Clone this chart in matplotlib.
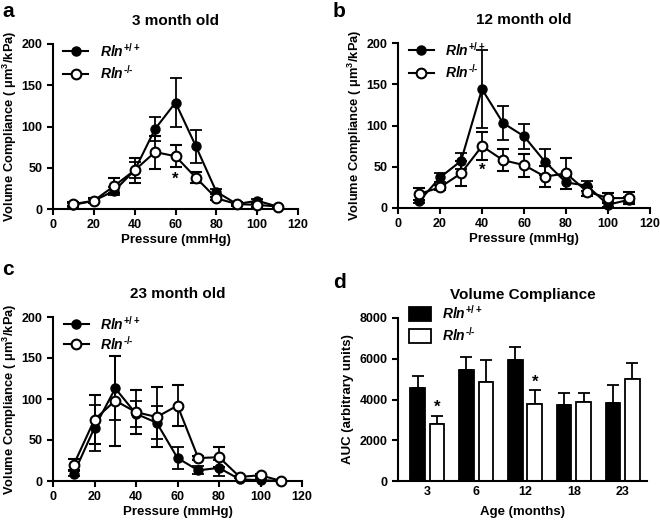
import numpy as np
import matplotlib
matplotlib.use('Agg')
import matplotlib.pyplot as plt
from matplotlib.lines import Line2D

plt.rcParams['font.family'] = 'Liberation Sans'
plt.rcParams['font.weight'] = 'bold'
plt.rcParams['mathtext.fontset'] = 'custom'
plt.rcParams['mathtext.rm'] = 'Liberation Sans:bold'
plt.rcParams['mathtext.it'] = 'Liberation Sans:bold:italic'
plt.rcParams['mathtext.default'] = 'rm'

# Pressure points (mmHg)
pressure = [10, 20, 30, 40, 50, 60, 70, 80, 90, 100, 110]

# 3 month old
wt_3 = [5, 10, 22, 47, 97, 129, 76, 21, 6, 10, 3]
wt_3_err = [2, 2, 5, 10, 14, 30, 20, 3, 2, 2, 1]
ko_3 = [6, 10, 28, 47, 69, 64, 38, 13, 6, 5, 3]
ko_3_err = [2, 3, 9, 15, 20, 13, 7, 2, 1, 2, 1]

# 12 month old
wt_12 = [8, 37, 57, 144, 103, 87, 56, 31, 27, 4, 10]
wt_12_err = [2, 5, 10, 47, 21, 15, 16, 8, 6, 3, 3]
ko_12 = [17, 25, 42, 75, 58, 52, 38, 42, 20, 12, 12]
ko_12_err = [7, 3, 15, 17, 13, 14, 13, 19, 6, 6, 7]

# 23 month old
wt_23 = [9, 65, 113, 82, 71, 28, 13, 16, 2, 1, 0]
wt_23_err = [3, 28, 39, 16, 20, 13, 5, 10, 2, 1, 0]
ko_23 = [20, 75, 98, 84, 78, 92, 28, 29, 5, 7, 0]
ko_23_err = [7, 30, 55, 27, 37, 25, 2, 12, 1, 2, 0]

# AUC by age
ages = ['3', '6', '12', '18', '23']
auc_wt = [4550, 5450, 5920, 3720, 3850]
auc_wt_err = [600, 650, 650, 620, 850]
auc_ko = [2800, 4880, 3800, 3860, 5030]
auc_ko_err = [400, 1070, 650, 450, 750]

lab_wt = r'$\mathit{Rln}^{+/+}$'
lab_ko = r'$\mathit{Rln}^{\text{-/-}}$'

W, H = 660, 521
fig = plt.figure(figsize=(W / 100, H / 100), dpi=100)


def rect(l, r, t, b):
    return [l / W, 1 - b / H, (r - l) / W, (b - t) / H]


def style(ax):
    for s in ['top', 'right']:
        ax.spines[s].set_visible(False)
    for s in ['left', 'bottom']:
        ax.spines[s].set_linewidth(1.5)
    ax.tick_params(width=1.5, length=4, labelsize=9)
    for t in ax.get_xticklabels() + ax.get_yticklabels():
        t.set_fontweight('bold')


def line_panel(ax, wt, wt_e, ko, ko_e, title, star=None, lspace=0.35):
    ax.errorbar(pressure, wt, yerr=wt_e, color='black', marker='o', ms=6.5,
                mfc='black', mec='black', lw=1.5, elinewidth=1.3, capsize=4,
                capthick=1.3, zorder=3)
    ax.errorbar(pressure, ko, yerr=ko_e, color='black', marker='o', ms=7,
                mfc='white', mec='black', mew=1.5, lw=1.5, elinewidth=1.3,
                capsize=4, capthick=1.3, zorder=4)
    ax.set_xlim(0, 120)
    ax.set_ylim(0, 200)
    ax.set_xticks(range(0, 121, 20))
    ax.set_yticks(range(0, 201, 50))
    ax.set_xlabel('Pressure (mmHg)', fontsize=9.5, fontweight='bold', labelpad=2)
    ax.set_ylabel('Volume Compliance ( μm$^3$/kPa)', fontsize=9.3,
                  fontweight='bold', labelpad=2)
    ax.set_title(title, fontsize=11, fontweight='bold', pad=14)
    handles = [
        Line2D([], [], color='black', marker='o', ms=6.5, mfc='black', lw=1.5),
        Line2D([], [], color='black', marker='o', ms=7, mfc='white', mew=1.5, lw=1.5),
    ]
    ax.legend(handles, [lab_wt, lab_ko], loc='upper left', frameon=False,
              fontsize=10, handlelength=1.8, borderaxespad=0.0,
              labelspacing=lspace, bbox_to_anchor=(0.02, 1.05))
    if star is not None:
        ax.text(star[0], star[1], '*', ha='center', va='center',
                fontsize=12, fontweight='bold')
    for ln in ax.lines:
        ln.set_clip_on(False)
    style(ax)


ax_a = fig.add_axes(rect(53, 298, 44, 209))
line_panel(ax_a, wt_3, wt_3_err, ko_3, ko_3_err, '3 month old', star=(60, 36))

ax_b = fig.add_axes(rect(398, 650, 43, 208))
line_panel(ax_b, wt_12, wt_12_err, ko_12, ko_12_err, '12 month old', star=(40, 46))

ax_c = fig.add_axes(rect(53, 302, 317, 481))
line_panel(ax_c, wt_23, wt_23_err, ko_23, ko_23_err, '23 month old', lspace=0.15)

# panel d: bars
ax_d = fig.add_axes(rect(398, 647, 318, 481))
x = np.arange(len(ages))
bw = 0.3
ax_d.bar(x - 0.2, auc_wt, bw, color='black', edgecolor='black', lw=1.3,
         label=lab_wt, zorder=2)
ax_d.errorbar(x - 0.2, auc_wt, yerr=[np.zeros(len(ages)), auc_wt_err],
              fmt='none', ecolor='black', elinewidth=1.3, capsize=4,
              capthick=1.3, zorder=1)
ax_d.bar(x + 0.2, auc_ko, bw, color='white', edgecolor='black', lw=1.3,
         label=lab_ko, zorder=2)
ax_d.errorbar(x + 0.2, auc_ko, yerr=[np.zeros(len(ages)), auc_ko_err],
              fmt='none', ecolor='black', elinewidth=1.3, capsize=4,
              capthick=1.3, zorder=1)
ax_d.set_xlim(-0.6, 4.5)
ax_d.set_ylim(0, 8000)
ax_d.set_yticks(range(0, 8001, 2000))
ax_d.set_xticks(x)
ax_d.set_xticklabels(ages)
ax_d.set_xlabel('Age (months)', fontsize=9.5, fontweight='bold', labelpad=6)
ax_d.set_ylabel('AUC (arbitrary units)', fontsize=9.5, fontweight='bold', labelpad=4)
ax_d.set_title('Volume Compliance', fontsize=11, fontweight='bold', pad=14)
ax_d.legend(loc='upper left', frameon=False, fontsize=10, handlelength=1.6,
            handleheight=1.2, borderaxespad=0.0, labelspacing=0.3,
            bbox_to_anchor=(0.02, 1.12))
ax_d.text(0.2, 3600, '*', ha='center', va='center', fontsize=12, fontweight='bold')
ax_d.text(2.2, 4850, '*', ha='center', va='center', fontsize=12, fontweight='bold')
style(ax_d)
ax_d.tick_params(axis='x', length=0)

# panel letters
for lx, ly, letter in [(2, 2, 'a'), (333, 2, 'b'), (2, 260, 'c'), (333, 273, 'd')]:
    fig.text(lx / W, 1 - ly / H, letter, fontsize=15, fontweight='bold',
             va='top', ha='left')

fig.savefig('out.png', dpi=100)
